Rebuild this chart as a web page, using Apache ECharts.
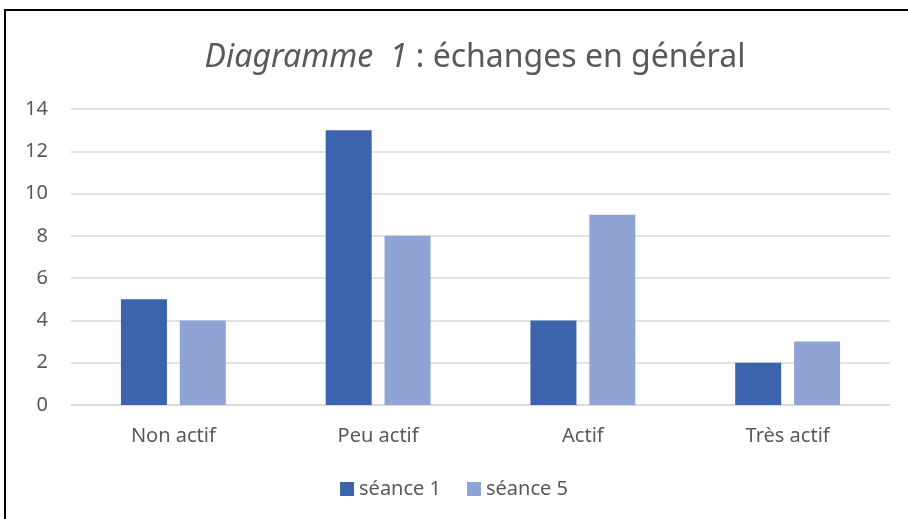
<!DOCTYPE html>
<html>
<head>
<meta charset="utf-8">
<script src="https://cdn.jsdelivr.net/npm/echarts@6/dist/echarts.min.js"></script>
<style>
  html, body { margin: 0; padding: 0; background: #fff; }
  #chart { width: 908px; height: 519px; }
</style>
</head>
<body>
<div id="chart"></div>
<script>
const categories = ["Non actif", "Peu actif", "Actif", "Très actif"];
const seance1 = [5, 13, 4, 2];
const seance5 = [4, 8, 9, 3];
const yTicks = { min: 0, max: 14, step: 2 };

const font = "'Noto Sans', 'Open Sans', sans-serif";
const chart = echarts.init(document.getElementById("chart"));

chart.setOption({
  animation: false,
  color: ["#3b64ad", "#8fa3d5"],
  graphic: [
    {
      type: "rect",
      shape: { x: 5, y: 10, width: 1000, height: 600 },
      style: { fill: "none", stroke: "#000", lineWidth: 2 },
      silent: true
    }
  ],
  title: {
    text: "{i|Diagramme  1} : échanges en général",
    left: 470,
    textAlign: "center",
    top: 37,
    textStyle: {
      fontFamily: font,
      fontSize: 32,
      fontWeight: "normal",
      color: "#595959",
      rich: {
        i: { fontFamily: font, fontSize: 32, fontStyle: "italic", color: "#595959" }
      }
    }
  },
  legend: {
    bottom: 15,
    left: "center",
    itemWidth: 14,
    itemHeight: 14,
    itemGap: 26,
    icon: "rect",
    textStyle: { fontFamily: font, fontSize: 20, color: "#595959" },
    data: ["séance 1", "séance 5"]
  },
  grid: { left: 71, right: 18, top: 109, bottom: 114, containLabel: false },
  xAxis: {
    type: "category",
    data: categories,
    axisLine: { lineStyle: { color: "#d9d9d9", width: 1.5 } },
    axisTick: { show: false },
    axisLabel: { fontFamily: font, fontSize: 20, color: "#595959", margin: 21 }
  },
  yAxis: {
    type: "value",
    min: yTicks.min,
    max: yTicks.max,
    interval: yTicks.step,
    axisLine: { show: false },
    axisTick: { show: false },
    splitLine: { lineStyle: { color: "#d9d9d9", width: 1.5 } },
    axisLabel: { fontFamily: font, fontSize: 20, color: "#595959", margin: 23 }
  },
  series: [
    { name: "séance 1", type: "bar", data: seance1, barWidth: 46, barGap: "28%" },
    { name: "séance 5", type: "bar", data: seance5, barWidth: 46, barGap: "28%" }
  ]
});
</script>
</body>
</html>
